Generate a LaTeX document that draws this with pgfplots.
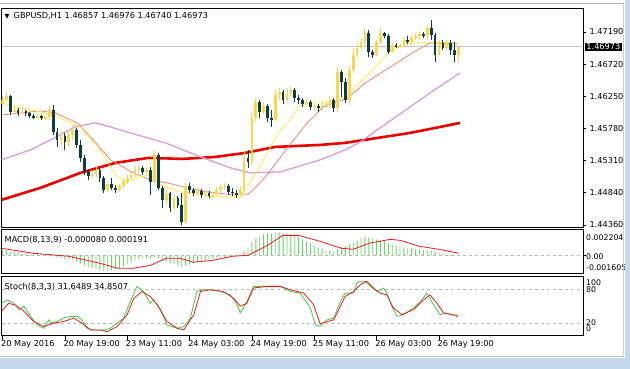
\documentclass[border=0pt]{standalone}
\usepackage{fontspec}
\setmainfont{DejaVu Sans}
\usepackage{pgfplots}
\usepackage{pgfplotstable}
\pgfplotsset{compat=1.18}
\definecolor{bull}{RGB}{248,216,80}
\definecolor{bear}{RGB}{16,62,62}
\definecolor{maY}{RGB}{255,236,70}
\definecolor{maS}{RGB}{240,120,110}
\definecolor{maV}{RGB}{214,160,214}
\definecolor{maR}{RGB}{235,0,0}
\definecolor{hist}{RGB}{110,210,110}
\definecolor{kcol}{RGB}{70,200,70}
\definecolor{dcol}{RGB}{230,30,30}
\definecolor{winframe}{RGB}{196,216,238}

\pgfplotstableread{
i o h l c
0 1.46134 1.46252 1.46105 1.46193
1 1.46193 1.46310 1.46164 1.46252
2 1.46252 1.46266 1.45973 1.46017
3 1.46017 1.46105 1.45988 1.46046
4 1.46046 1.46076 1.45959 1.46003
5 1.46003 1.46076 1.45988 1.46032
6 1.46032 1.46046 1.45959 1.46003
7 1.46003 1.46017 1.45929 1.45959
8 1.45959 1.45988 1.45915 1.45944
9 1.45944 1.45988 1.45929 1.45959
10 1.45959 1.45973 1.45900 1.45929
11 1.45929 1.45973 1.45900 1.45944
12 1.45944 1.46105 1.45900 1.46046
13 1.46046 1.46120 1.45680 1.45724
14 1.45724 1.45783 1.45504 1.45607
15 1.45607 1.45753 1.45533 1.45665
16 1.45665 1.45709 1.45460 1.45577
17 1.45577 1.45753 1.45504 1.45680
18 1.45680 1.45827 1.45607 1.45753
19 1.45753 1.45783 1.45489 1.45533
20 1.45533 1.45607 1.45284 1.45343
21 1.45343 1.45387 1.45094 1.45138
22 1.45138 1.45167 1.45020 1.45079
23 1.45079 1.45167 1.45050 1.45108
24 1.45108 1.45240 1.45064 1.45167
25 1.45167 1.45196 1.44991 1.45050
26 1.45050 1.45079 1.44830 1.44874
27 1.44874 1.44991 1.44844 1.44962
28 1.44962 1.45050 1.44874 1.44903
29 1.44903 1.44947 1.44830 1.44874
30 1.44874 1.44962 1.44844 1.44932
31 1.44932 1.45050 1.44903 1.44991
32 1.44991 1.45094 1.44962 1.45050
33 1.45050 1.45138 1.45020 1.45094
34 1.45094 1.45226 1.45064 1.45167
35 1.45167 1.45240 1.45138 1.45196
36 1.45196 1.45226 1.45094 1.45138
37 1.45138 1.45211 1.45108 1.45167
38 1.45167 1.45211 1.44800 1.44991
39 1.44991 1.45460 1.44962 1.45387
40 1.45387 1.45416 1.44874 1.44903
41 1.44903 1.44932 1.44610 1.44727
42 1.44727 1.44874 1.44654 1.44830
43 1.44830 1.44844 1.44551 1.44610
44 1.44610 1.44800 1.44581 1.44756
45 1.44756 1.44786 1.44610 1.44654
46 1.44654 1.44830 1.44361 1.44405
47 1.44405 1.44976 1.44375 1.44932
48 1.44932 1.44976 1.44830 1.44874
49 1.44874 1.44903 1.44786 1.44830
50 1.44830 1.44903 1.44800 1.44859
51 1.44859 1.44888 1.44756 1.44800
52 1.44800 1.44859 1.44771 1.44830
53 1.44830 1.44859 1.44756 1.44786
54 1.44786 1.44844 1.44756 1.44815
55 1.44815 1.44918 1.44786 1.44874
56 1.44874 1.44962 1.44844 1.44918
57 1.44918 1.44976 1.44874 1.44932
58 1.44932 1.44962 1.44800 1.44844
59 1.44844 1.44903 1.44786 1.44830
60 1.44830 1.44874 1.44756 1.44800
61 1.44800 1.44932 1.44771 1.44874
62 1.44874 1.45460 1.44800 1.45343
63 1.45343 1.45460 1.45196 1.45284
64 1.45284 1.46017 1.45240 1.45929
65 1.45929 1.46222 1.45871 1.46164
66 1.46164 1.46193 1.45929 1.46017
67 1.46017 1.46164 1.45988 1.46105
68 1.46105 1.46134 1.45871 1.45929
69 1.45929 1.46046 1.45797 1.45900
70 1.45900 1.46340 1.45871 1.46266
71 1.46266 1.46369 1.46193 1.46310
72 1.46310 1.46340 1.46134 1.46193
73 1.46193 1.46369 1.46164 1.46281
74 1.46281 1.46398 1.46237 1.46340
75 1.46340 1.46369 1.46164 1.46222
76 1.46222 1.46266 1.46134 1.46193
77 1.46193 1.46222 1.46090 1.46134
78 1.46134 1.46208 1.46105 1.46164
79 1.46164 1.46193 1.46046 1.46090
80 1.46090 1.46149 1.46046 1.46105
81 1.46105 1.46134 1.46017 1.46076
82 1.46076 1.46164 1.46046 1.46120
83 1.46120 1.46178 1.46076 1.46134
84 1.46134 1.46252 1.46076 1.46193
85 1.46193 1.46222 1.46017 1.46076
86 1.46076 1.46662 1.46017 1.46604
87 1.46604 1.46633 1.46237 1.46457
88 1.46457 1.46516 1.46149 1.46193
89 1.46193 1.46692 1.46120 1.46633
90 1.46633 1.46955 1.46589 1.46853
91 1.46853 1.47029 1.46809 1.46955
92 1.46955 1.47102 1.46926 1.47043
93 1.47043 1.47249 1.46970 1.47175
94 1.47175 1.47219 1.46823 1.46897
95 1.46897 1.46926 1.46809 1.46853
96 1.46853 1.47073 1.46838 1.47043
97 1.47043 1.47249 1.47014 1.47175
98 1.47175 1.47190 1.47102 1.47131
99 1.47131 1.47161 1.46867 1.46897
100 1.46897 1.47043 1.46882 1.46999
101 1.46999 1.47029 1.46955 1.46985
102 1.46985 1.47029 1.46955 1.46999
103 1.46999 1.47117 1.46970 1.47073
104 1.47073 1.47131 1.47014 1.47043
105 1.47043 1.47146 1.47014 1.47102
106 1.47102 1.47175 1.47073 1.47131
107 1.47131 1.47205 1.47073 1.47161
108 1.47161 1.47190 1.47102 1.47146
109 1.47146 1.47293 1.47073 1.47249
110 1.47249 1.47366 1.47073 1.47146
111 1.47146 1.47175 1.46750 1.46853
112 1.46853 1.47073 1.46838 1.47029
113 1.47029 1.47073 1.46926 1.46955
114 1.46955 1.47073 1.46926 1.47029
115 1.47029 1.47073 1.46853 1.46926
116 1.46926 1.47043 1.46750 1.46857
117 1.46857 1.46976 1.46740 1.46973
}\candles

\pgfplotstableread{
i m
0 0.00045
1 0.00045
2 0.00036
3 0.00036
4 0.00027
5 0.00027
6 0.00027
7 0.00018
8 0.00018
9 0.00018
10 0.00009
11 0.00009
12 0.00009
13 -0.00009
14 -0.00018
15 -0.00027
16 -0.00036
17 -0.00036
18 -0.00036
19 -0.00054
20 -0.00072
21 -0.0009
22 -0.00108
23 -0.00117
24 -0.00126
25 -0.00135
26 -0.00144
27 -0.00144
28 -0.00135
29 -0.00126
30 -0.00117
31 -0.00099
32 -0.00081
33 -0.00063
34 -0.00045
35 -0.00036
36 -0.00027
37 -0.00027
38 -0.00027
39 -0.00018
40 -0.00027
41 -0.00045
42 -0.00054
43 -0.00072
44 -0.00081
45 -0.0009
46 -0.00108
47 -0.0009
48 -0.00081
49 -0.00072
50 -0.00063
51 -0.00054
52 -0.00045
53 -0.00036
54 -0.00027
55 -0.00027
56 -0.00018
57 -0.00018
58 -0.00009
59 -0.00009
60 0.00002
61 0.00009
62 0.00045
63 0.00072
64 0.00117
65 0.00153
66 0.00171
67 0.00189
68 0.00198
69 0.00198
70 0.00207
71 0.00207
72 0.00198
73 0.00198
74 0.00189
75 0.0018
76 0.00162
77 0.00144
78 0.00126
79 0.00108
80 0.0009
81 0.00072
82 0.00063
83 0.00045
84 0.00045
85 0.00036
86 0.00054
87 0.00072
88 0.00081
89 0.00099
90 0.00117
91 0.00135
92 0.00153
93 0.00171
94 0.00162
95 0.00153
96 0.00144
97 0.00135
98 0.00126
99 0.00108
100 0.00099
101 0.0009
102 0.00081
103 0.00072
104 0.00063
105 0.00063
106 0.00054
107 0.00054
108 0.00045
109 0.00045
110 0.00045
111 0.00036
112 0.00027
113 0.00018
114 0.00009
115 0.00005
116 0.00002
117 -0.00008
}\macd

\begin{document}
\begin{tikzpicture}[x=1pt,y=1pt,font=\fontsize{8.2}{9.5}\selectfont]
\fill[white] (0pt,0pt) rectangle (630pt,369pt);

\pgfplotsset{mtpanel/.style={scale only axis, width=582pt, xmin=-0.256, xmax=148.97,
  axis line style={black, line width=0.9pt}, xtick=\empty, ytick=\empty,
  tick style={black, line width=0.6pt}, anchor=south west,
  clip bounding box=upper bound,
  ticklabel style={font=\fontsize{8.2}{9.5}\selectfont}}}

% ---------------- main price panel
\begin{axis}[mtpanel, at={(1pt,141pt)}, height=220pt,
  ymin=1.44317, ymax=1.47542,
  ytick={1.47190,1.46720,1.46250,1.45780,1.45310,1.44840,1.44360},
  yticklabels={1.47190,1.46720,1.46250,1.45780,1.45310,1.44840,1.44360},
  ytick pos=right, yticklabel pos=right, tick align=outside, major tick length=3pt]
\addplot[gray!45, line width=0.6pt] coordinates {(-0.25,1.46973) (148.9,1.46973)};
\addplot[maR, line width=2.6pt] coordinates {(-0.25,1.44727)(9.7,1.44903)(20,1.45123)(29,1.45270)(37.4,1.45343)(46.2,1.45328)(54.6,1.45357)(62.3,1.45416)(70,1.45504)(81.5,1.45533)(87.9,1.45563)(104.6,1.45709)(117.4,1.45856)};
\addplot[maV, line width=1.3pt] coordinates {(-0.25,1.45314)(7.2,1.45460)(12.3,1.45607)(18.7,1.45797)(23.8,1.45856)(27.7,1.45797)(32.8,1.45709)(41.8,1.45563)(50.8,1.45357)(58.5,1.45196)(63.6,1.45123)(71.3,1.45138)(81.5,1.45314)(87.9,1.45460)(91.8,1.45577)(96.9,1.45783)(102,1.45988)(109.7,1.46296)(117.4,1.46589)};
\addplot[maS, line width=0.7pt] coordinates {(-0.25,1.45973)(7.2,1.46017)(9.7,1.46032)(13.6,1.46003)(19.2,1.45856)(22.6,1.45651)(27.7,1.45314)(33.6,1.45123)(37.9,1.45020)(42.3,1.44976)(47.4,1.44903)(52.6,1.44844)(59.2,1.44800)(62.8,1.44800)(64.9,1.44903)(67.9,1.45094)(73.3,1.45504)(78.2,1.45856)(82.3,1.46090)(88.5,1.46222)(93.1,1.46442)(99.5,1.46677)(105.1,1.46882)(109.7,1.47029)(116.9,1.47014)};
\addplot[maY, line width=0.8pt] coordinates {(-0.25,1.46149)(4.6,1.46076)(9.7,1.46017)(13.1,1.45973)(20,1.45797)(25.1,1.45460)(29,1.45094)(31,1.44991)(32.8,1.45020)(35.4,1.45064)(37.9,1.45094)(40.5,1.44947)(45.6,1.44844)(48.2,1.44830)(54.1,1.44771)(61,1.44771)(64.4,1.45064)(67.9,1.45416)(71.3,1.45753)(73.8,1.45900)(75.9,1.46090)(79.7,1.46164)(84.1,1.46164)(86.7,1.46222)(87.9,1.46237)(93.1,1.46530)(97.4,1.46780)(99,1.46897)(102,1.46970)(105.1,1.47029)(110.3,1.47043)(116.9,1.47029)};
% wicks
\addplot[draw=none, mark=none, restrict expr to domain={\thisrow{c}-\thisrow{o}}{0:1},
  error bars/.cd, y dir=both, y explicit, error mark=none, error bar style={draw=bull, line width=0.9pt}]
  table[x=i, y expr={(\thisrow{h}+\thisrow{l})/2}, y error expr={(\thisrow{h}-\thisrow{l})/2}] {\candles};
\addplot[draw=none, mark=none, restrict expr to domain={\thisrow{c}-\thisrow{o}}{-1:-0.000001},
  error bars/.cd, y dir=both, y explicit, error mark=none, error bar style={draw=bear, line width=0.9pt}]
  table[x=i, y expr={(\thisrow{h}+\thisrow{l})/2}, y error expr={(\thisrow{h}-\thisrow{l})/2}] {\candles};
% bodies
\addplot[draw=none, mark=none, restrict expr to domain={\thisrow{c}-\thisrow{o}}{0:1},
  error bars/.cd, y dir=both, y explicit, error mark=none, error bar style={draw=bull, line width=2.7pt}]
  table[x=i, y expr={(\thisrow{o}+\thisrow{c})/2}, y error expr={max(abs(\thisrow{c}-\thisrow{o})/2,0.00004)}] {\candles};
\addplot[draw=none, mark=none, restrict expr to domain={\thisrow{c}-\thisrow{o}}{-1:-0.000001},
  error bars/.cd, y dir=both, y explicit, error mark=none, error bar style={draw=bear, line width=2.7pt}]
  table[x=i, y expr={(\thisrow{o}+\thisrow{c})/2}, y error expr={max(abs(\thisrow{c}-\thisrow{o})/2,0.00004)}] {\candles};
\end{axis}

% ---------------- MACD panel
\begin{axis}[mtpanel, at={(1pt,95pt)}, height=44pt, ymin=-0.00167, ymax=0.0023]
\addplot[gray!55, dashed, line width=0.5pt] coordinates {(-0.25,0) (148.9,0)};
\addplot[ybar, bar width=0.9pt, fill=hist, draw=none] table[x=i, y=m] {\macd};
\addplot[dcol, line width=0.8pt] coordinates {(-0.25,0.00063)(8,0.00018)(17,-0.00009)(25,-0.00072)(29.5,-0.00117)(33.6,-0.00117)(38,-0.0009)(42,-0.00027)(45.6,-0.00027)(49,-0.00063)(54,-0.00045)(59,-0.00009)(63,0)(68,0.0009)(72,0.0018)(76,0.0018)(81.5,0.00126)(87,0.00063)(90,0.00054)(94,0.00108)(99.5,0.00144)(102,0.00135)(107,0.00081)(112,0.00054)(117,0.00019)};
\end{axis}

% ---------------- Stochastic panel
\begin{axis}[mtpanel, at={(1pt,33pt)}, height=59pt, ymin=-1.2, ymax=102.9]
\addplot[gray!55, dashed, line width=0.5pt] coordinates {(-0.25,80) (148.9,80)};
\addplot[gray!55, dashed, line width=0.5pt] coordinates {(-0.25,20) (148.9,20)};
\addplot[kcol, line width=0.8pt] coordinates {(-0.25,56)(1.2,62)(2.9,56)(4.2,45)(5.5,51)(7.2,33)(8.9,18)(10.6,12)(11.9,27)(12.3,21)(14,24)(15.7,30)(17.4,33)(19.2,33)(20.4,27)(21.7,12)(23.4,9)(26,9)(27.7,12)(29.4,21)(31.1,30)(32.8,59)(34.5,86)(36.2,77)(37.9,56)(38.8,62)(40.5,45)(42.2,18)(44.8,12)(46.5,15)(48.2,30)(49.9,77)(51.6,80)(53.3,80)(55.9,77)(58.5,71)(60.2,54)(61,39)(62.7,59)(64.4,86)(66.2,86)(69.6,86)(71.3,86)(73.8,77)(76.4,74)(79,48)(80.3,18)(81.5,16)(83.3,27)(85,30)(86.7,59)(87.9,74)(90.1,74)(90.9,92)(91.8,95)(93.1,95)(94.4,86)(96.1,77)(97.8,83)(98.6,74)(99.9,51)(101.2,33)(102.9,36)(105.5,48)(107.2,59)(108.9,74)(110.6,54)(112.3,36)(114,39)(117,31.65)};
\addplot[dcol, line width=0.8pt] coordinates {(-0.25,42)(1.6,56)(3.3,53)(5.5,42)(8,24)(10.6,15)(13.2,21)(15.7,24)(18.3,30)(20.4,21)(22.6,9)(25.1,9)(26.8,6)(29.4,15)(32,36)(33.7,65)(35.8,77)(37.9,68)(39.7,54)(42.2,24)(44.8,12)(46.5,9)(49.1,36)(50.8,77)(53.3,80)(56.7,77)(59.3,65)(61,51)(62.7,56)(64.4,83)(67.9,86)(71.3,86)(73.8,80)(77.3,74)(79.8,54)(81.5,20)(85,27)(87.9,68)(90.1,77)(91.8,89)(93.5,95)(95.2,83)(96.9,74)(98.6,71)(100.3,48)(102.5,36)(105.5,45)(108,62)(109.7,71)(111.5,56)(113.2,39)(115.3,36)(117,34.85)};
\end{axis}

% ---------------- date axis labels and ticks
\foreach \tx/\lab in {2/20 May 2016, 64.4/20 May 19:00, 126.8/23 May 11:00, 189.2/24 May 03:00, 251.6/24 May 19:00, 314/25 May 11:00, 376.4/26 May 03:00, 438.8/26 May 19:00}{
  \draw[black, line width=0.6pt] (\tx pt,33pt) -- (\tx pt,29pt);
  \node[anchor=west, inner sep=0pt] at (\tx pt-1.5pt,24pt) {\lab};
}

% ---------------- texts
\node[anchor=west, inner sep=0pt] at (4pt,353pt) {{\fontsize{6.5}{6.5}\selectfont ▼}\hspace{4pt}GBPUSD,H1 1.46857 1.46976 1.46740 1.46973};
\node[anchor=west, inner sep=0pt] at (4pt,129pt) {MACD(8,13,9) -0.000080 0.000191};
\node[anchor=west, inner sep=0pt] at (4pt,82pt) {Stoch(8,3,3) 31.6489 34.8507};
\node[anchor=west, fill=black, text=white, inner sep=1.2pt] at (585pt,322pt) {1.46973};
\begin{scope}[font=\fontsize{7.8}{9}\selectfont]
\node[anchor=west, inner sep=0pt] at (586pt,131pt) {0.002204};
\node[anchor=west, inner sep=0pt] at (586pt,112pt) {0.00};
\node[anchor=west, inner sep=0pt] at (586pt,101pt) {-0.001605};
\node[anchor=west, inner sep=0pt] at (586pt,86pt) {100};
\node[anchor=west, inner sep=0pt] at (586pt,79.5pt) {80};
\node[anchor=west, inner sep=0pt] at (586pt,46pt) {20};
\node[anchor=west, inner sep=0pt] at (586pt,40pt) {0};
\end{scope}
\draw[black, line width=0.6pt] (583pt,113.5pt) -- (586pt,113.5pt);

% ---------------- window frame
\fill[winframe] (0pt,0pt) rectangle (630pt,11pt);
\fill[winframe] (624.5pt,0pt) rectangle (630pt,369pt);
\draw[gray!55, line width=0.8pt] (0pt,12pt) -- (623.5pt,12pt);
\draw[gray!40, line width=0.8pt] (623.5pt,12pt) -- (623.5pt,365pt);
\draw[gray!60, line width=1pt] (0pt,365pt) -- (623.5pt,365pt);
\end{tikzpicture}
\end{document}
